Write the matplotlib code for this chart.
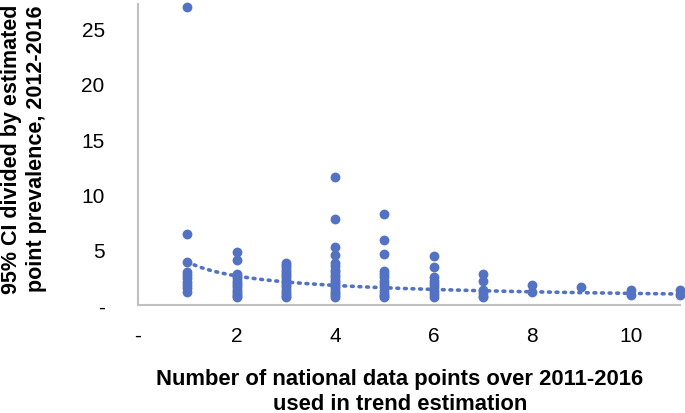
import numpy as np
import matplotlib
matplotlib.use("Agg")
import matplotlib.pyplot as plt

plt.rcParams['font.family'] = ['Liberation Sans', 'DejaVu Sans']

# Values read per number of national data points
points_by_n = {
    1: [26.9, 6.4, 3.9, 3.0, 2.7, 2.4, 2.1, 1.8, 1.5, 1.2],
    2: [4.8, 4.1, 2.8, 2.6, 2.4, 2.2, 2.0, 1.8, 1.6, 1.4, 1.2, 1.0, 0.8, 0.7],
    3: [3.8, 3.6, 3.4, 3.2, 3.0, 2.8, 2.6, 2.4, 2.2, 2.0, 1.8, 1.6, 1.4, 1.2, 1.0, 0.8, 0.7],
    4: [11.6, 7.8, 5.2, 4.5, 3.8, 3.5, 3.2, 3.0, 2.7, 2.5, 2.3, 2.1, 1.9, 1.7, 1.5, 1.3, 1.1, 0.9, 0.7],
    5: [8.2, 5.9, 4.6, 3.1, 2.8, 2.5, 2.2, 1.9, 1.6, 1.3, 1.0, 0.8, 0.7],
    6: [4.4, 3.4, 2.5, 2.2, 1.9, 1.6, 1.3, 1.0, 0.7],
    7: [2.8, 2.2, 1.4, 1.1, 0.8, 0.7],
    8: [1.8, 1.2],
    9: [1.6],
    10: [1.4, 0.9],
    11: [1.4, 0.9],
}

# Power trendline y = a * x^b
trend_a = 3.9
trend_b = -0.57
trend_range = [1, 11]

x_ticks = [0, 2, 4, 6, 8, 10]
x_tick_labels = ["-", "2", "4", "6", "8", "10"]
y_ticks = [0, 5, 10, 15, 20, 25]
y_tick_labels = ["-", "5", "10", "15", "20", "25"]

x = np.concatenate([[n] * len(v) for n, v in points_by_n.items()]).astype(float)
y = np.concatenate([v for v in points_by_n.values()])

color = '#5472C4'

fig = plt.figure(figsize=(6.85, 4.14), dpi=100)
ax = fig.add_axes([138/685, 1-306/414, (680-138)/685, (306-5)/414])

ax.scatter(x, y, s=50, color=color, zorder=3, clip_on=False, linewidths=0)

xt = np.linspace(trend_range[0], trend_range[1], 200)
yt = trend_a * xt ** trend_b
ax.plot(xt, yt, color=color, lw=2.6, linestyle=(0, (0.5, 1.6)),
        dash_capstyle='round', zorder=2)

ax.set_xlim(0, 11)
ax.set_ylim(0, 27.2)
ax.set_xticks(x_ticks)
ax.set_xticklabels(x_tick_labels)
ax.set_yticks(y_ticks)
ax.set_yticklabels(y_tick_labels)
ax.tick_params(axis='both', length=0, labelsize=15, colors='black')
ax.tick_params(axis='y', pad=24)
ax.tick_params(axis='x', pad=15)
for side in ['top', 'right']:
    ax.spines[side].set_visible(False)
for side in ['left', 'bottom']:
    ax.spines[side].set_color('#BFBFBF')
    ax.spines[side].set_linewidth(1.5)

fig.text(400/685, 1-392/414,
         "Number of national data points over 2011-2016\nused in trend estimation",
         ha='center', va='center', fontsize=15.8, fontweight='bold', linespacing=1.2)
fig.text(24/685, 1-149/414,
         "95% CI divided by estimated\npoint prevalence, 2012-2016",
         ha='center', va='center', rotation=90, fontsize=15.5, fontweight='bold',
         linespacing=1.2)

fig.savefig("out.png", dpi=100)
